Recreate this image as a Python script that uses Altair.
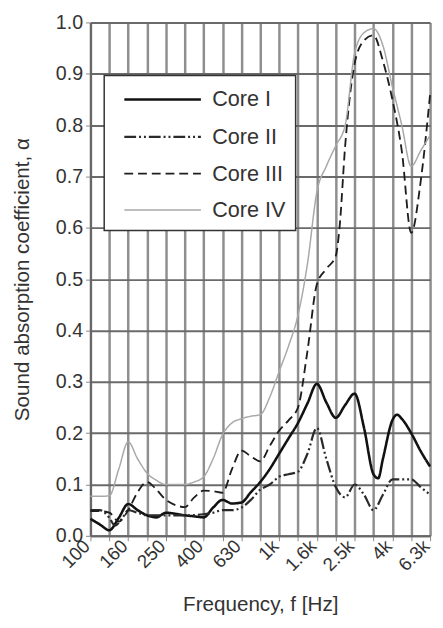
import json
import altair as alt
import pandas as pd

# 1/3-octave band labels (x positions are band indices 0..18)
bands = ['100', '125', '160', '200', '250', '315', '400', '500', '630', '800',
         '1k', '1.25k', '1.6k', '2k', '2.5k', '3.15k', '4k', '5k', '6.3k']
cores = ['Core I', 'Core II', 'Core III', 'Core IV']

core1_x = [0, 0.5, 1, 1.5, 2, 2.5, 3, 3.5, 4, 4.5, 5, 5.5, 6, 6.5, 7, 7.5, 8, 8.5, 9, 9.5,
           10, 10.5, 11, 11.5, 12, 12.5, 13, 13.5, 14, 14.5, 15, 15.25, 15.5, 16, 16.25,
           16.5, 17, 17.5, 18]
core1_y = [0.033, 0.022, 0.011, 0.035, 0.062, 0.05, 0.04, 0.036, 0.045, 0.043, 0.04, 0.038,
           0.036, 0.055, 0.07, 0.063, 0.065, 0.085, 0.105, 0.13, 0.16, 0.19, 0.22, 0.258,
           0.296, 0.26, 0.23, 0.255, 0.277, 0.21, 0.12, 0.112, 0.15, 0.225, 0.236, 0.228,
           0.2, 0.165, 0.135]

core2_x = [0, 0.5, 1, 1.3, 1.7, 2, 2.5, 3, 4, 5, 6, 6.5, 7, 7.5, 8, 8.5, 9, 9.5, 10, 10.5,
           11, 11.5, 12, 12.5, 13, 13.5, 14, 14.5, 15, 15.5, 16, 16.5, 17, 17.5, 18]
core2_y = [0.05, 0.05, 0.035, 0.02, 0.035, 0.05, 0.045, 0.04, 0.04, 0.04, 0.042, 0.045,
           0.05, 0.05, 0.055, 0.07, 0.09, 0.1, 0.115, 0.12, 0.125, 0.16, 0.21, 0.15, 0.095,
           0.075, 0.1, 0.08, 0.05, 0.08, 0.11, 0.11, 0.11, 0.095, 0.08]

core3_x = [0, 0.5, 1, 1.5, 2, 2.5, 3, 3.5, 4, 4.5, 5, 5.5, 6, 6.5, 7, 7.5, 8, 8.5, 9, 9.5,
           10, 10.5, 11, 11.5, 12, 12.5, 13, 13.2, 13.5, 14, 14.5, 15, 15.5, 16, 16.5, 17,
           17.5, 18]
core3_y = [0.048, 0.048, 0.045, 0.028, 0.05, 0.085, 0.105, 0.09, 0.07, 0.06, 0.056, 0.075,
           0.088, 0.087, 0.084, 0.13, 0.166, 0.155, 0.145, 0.175, 0.205, 0.225, 0.25, 0.36,
           0.49, 0.52, 0.545, 0.6, 0.76, 0.92, 0.965, 0.975, 0.925, 0.85, 0.75, 0.59, 0.69,
           0.86]

core4_x = [0, 0.5, 1, 1.5, 2, 2.5, 3, 3.5, 4, 4.5, 5, 5.5, 6, 6.5, 7, 7.5, 8, 8.5, 9, 9.5,
           10, 10.5, 11, 11.5, 12, 12.5, 13, 13.5, 14, 14.5, 15, 15.5, 16, 16.5, 17, 17.5, 18]
core4_y = [0.077, 0.077, 0.078, 0.13, 0.183, 0.15, 0.122, 0.108, 0.1, 0.1, 0.1, 0.105,
           0.115, 0.15, 0.197, 0.22, 0.228, 0.233, 0.236, 0.27, 0.32, 0.37, 0.43, 0.53,
           0.67, 0.72, 0.76, 0.8, 0.94, 0.98, 0.988, 0.955, 0.875, 0.8, 0.72, 0.75, 0.78]

y_ticks = [0.0, 0.1, 0.2, 0.3, 0.4, 0.5, 0.6, 0.7, 0.8, 0.9, 1.0]

rows = []
for name, xs, ys in [(cores[0], core1_x, core1_y), (cores[1], core2_x, core2_y),
                     (cores[2], core3_x, core3_y), (cores[3], core4_x, core4_y)]:
    for i, (xv, yv) in enumerate(zip(xs, ys)):
        rows.append({'core': name, 'x': xv, 'y': yv, 'order': i})
df = pd.DataFrame(rows)

label_expr = ("datum.value % 2 == 0 ? " + json.dumps(bands) + "[datum.value] : ''")

FONT = 'Liberation Sans'
TXT = '#333333'

legend = alt.Legend(
    title=None, orient='none', legendX=14, legendY=54,
    symbolType='M-3,0L3,0', symbolSize=676, symbolOffset=35, symbolStrokeWidth=2,
    labelOffset=36, padding=10, rowPadding=12, labelFontSize=22, labelFont=FONT,
    labelColor=TXT, fillColor='white', strokeColor='#333333',
    labelExpr="datum.label + '\u00a0\u00a0\u00a0\u00a0\u00a0\u00a0'"
)

chart = alt.Chart(df).mark_line(interpolate='monotone').encode(
    x=alt.X('x:Q', scale=alt.Scale(domain=[0, 18], nice=False, zero=False),
            axis=alt.Axis(values=list(range(19)), labelExpr=label_expr, labelAngle=315,
                          labelAlign='right', labelBaseline='middle', labelFontSize=19,
                          labelPadding=2, labelOffset=-4, labelFont=FONT, labelColor=TXT,
                          title='Frequency, f [Hz]', titleFontSize=21, titleFont=FONT,
                          titleColor=TXT, titleFontWeight='normal', titleY=76,
                          titleBaseline='alphabetic',
                          gridColor='#8e8e8e', gridWidth=2.5, tickSize=5,
                          tickColor='#888888', domainColor='#666666', domainWidth=2,
                          labelOverlap=False)),
    y=alt.Y('y:Q', scale=alt.Scale(domain=[0, 1], nice=False),
            axis=alt.Axis(values=y_ticks, format='.1f', labelFontSize=20, labelFont=FONT,
                          labelColor=TXT, labelPadding=3,
                          title='Sound absorption coefficient, α', titleFontSize=21,
                          titleFont=FONT, titleColor=TXT, titleFontWeight='normal',
                          titleAngle=270, titleX=-69, titleY=261.5, titleBaseline='middle',
                          gridColor='#6a6a6a', gridWidth=2, tickSize=5,
                          tickColor='#888888', domainColor='#666666', domainWidth=2)),
    color=alt.Color('core:N', scale=alt.Scale(domain=cores,
                    range=['#111111', '#2a2a2a', '#1e1e1e', '#a8a8a8']), legend=legend),
    strokeDash=alt.StrokeDash('core:N', scale=alt.Scale(domain=cores,
                              range=[[1, 0], [12, 3, 2, 3, 2, 3], [9, 5], [1, 0]]),
                              legend=legend),
    strokeWidth=alt.StrokeWidth('core:N', scale=alt.Scale(type='point', domain=cores,
                                range=[2.6, 1.5], padding=0), legend=None),
    order='order:Q'
).properties(
    width=346, height=523,
    autosize=alt.AutoSizeParams(type='none'),
    padding={'left': 84, 'top': 9, 'right': 5, 'bottom': 80},
    background='white'
).configure_view(strokeWidth=0).configure_legend(strokeWidth=1.5)

chart.save("out.html", embed_options={"renderer": "svg", "actions": False})
